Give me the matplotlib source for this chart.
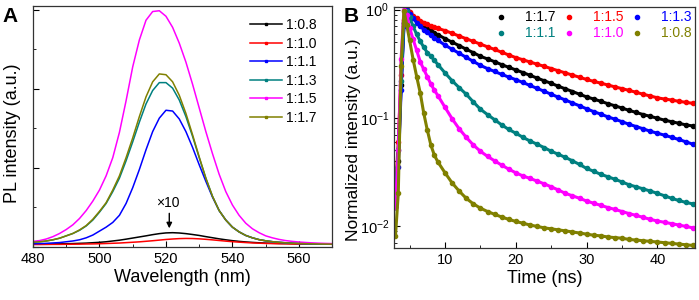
import numpy as np
import matplotlib
matplotlib.use('Agg')
import matplotlib.pyplot as plt
from matplotlib.lines import Line2D
from matplotlib.ticker import MultipleLocator, LogLocator, NullFormatter

plt.rcParams['font.family'] = ['Liberation Sans', 'DejaVu Sans']
plt.rcParams['mathtext.fontset'] = 'custom'
plt.rcParams['mathtext.rm'] = 'Liberation Sans'

# ---- panel A: PL spectra (wavelength every 2 nm, 480..570) ----
wl = list(range(480, 571, 2))

pl_08 = [0.035, 0.036, 0.037, 0.038, 0.039, 0.040, 0.042, 0.045, 0.048, 0.053, 0.058,
         0.065, 0.075, 0.085, 0.098, 0.112, 0.126, 0.140, 0.155, 0.168, 0.177, 0.180,
         0.176, 0.168, 0.157, 0.145, 0.130, 0.116, 0.102, 0.090, 0.079, 0.070, 0.063,
         0.057, 0.052, 0.048, 0.046, 0.044, 0.043, 0.041, 0.040, 0.039, 0.038, 0.037,
         0.036, 0.036]
pl_10 = [0.030, 0.030, 0.031, 0.032, 0.032, 0.033, 0.034, 0.035, 0.037, 0.038, 0.040,
         0.043, 0.046, 0.049, 0.054, 0.059, 0.064, 0.071, 0.078, 0.086, 0.094, 0.100,
         0.105, 0.107, 0.106, 0.102, 0.096, 0.089, 0.081, 0.073, 0.066, 0.060, 0.055,
         0.050, 0.047, 0.044, 0.042, 0.040, 0.039, 0.037, 0.036, 0.035, 0.035, 0.034,
         0.034, 0.033]
pl_11 = [0.040, 0.042, 0.045, 0.050, 0.055, 0.065, 0.075, 0.090, 0.115, 0.150, 0.200,
         0.250, 0.310, 0.400, 0.550, 0.750, 0.980, 1.230, 1.460, 1.630, 1.730, 1.720,
         1.620, 1.460, 1.260, 1.040, 0.830, 0.630, 0.460, 0.340, 0.250, 0.190, 0.145,
         0.115, 0.092, 0.077, 0.066, 0.058, 0.052, 0.047, 0.044, 0.041, 0.039, 0.037,
         0.036, 0.035]
pl_13 = [0.060, 0.065, 0.075, 0.090, 0.110, 0.140, 0.170, 0.210, 0.265, 0.340, 0.440,
         0.550, 0.700, 0.870, 1.090, 1.330, 1.580, 1.810, 1.980, 2.080, 2.080, 2.010,
         1.860, 1.650, 1.400, 1.130, 0.870, 0.640, 0.460, 0.340, 0.250, 0.190, 0.145,
         0.115, 0.092, 0.077, 0.066, 0.058, 0.052, 0.047, 0.044, 0.041, 0.039, 0.037,
         0.036, 0.035]
pl_15 = [0.070, 0.080, 0.100, 0.130, 0.170, 0.220, 0.280, 0.360, 0.460, 0.580, 0.720,
         0.900, 1.130, 1.450, 1.850, 2.280, 2.620, 2.870, 2.980, 2.990, 2.920, 2.780,
         2.580, 2.340, 2.060, 1.760, 1.460, 1.180, 0.920, 0.700, 0.530, 0.400, 0.300,
         0.230, 0.180, 0.140, 0.115, 0.095, 0.080, 0.070, 0.062, 0.056, 0.051, 0.047,
         0.044, 0.042]
pl_17 = [0.060, 0.065, 0.075, 0.090, 0.110, 0.140, 0.170, 0.215, 0.270, 0.350, 0.450,
         0.560, 0.720, 0.900, 1.130, 1.380, 1.650, 1.900, 2.090, 2.190, 2.180, 2.090,
         1.920, 1.690, 1.420, 1.140, 0.870, 0.640, 0.460, 0.340, 0.250, 0.190, 0.145,
         0.115, 0.092, 0.077, 0.066, 0.058, 0.052, 0.047, 0.044, 0.041, 0.039, 0.037,
         0.036, 0.035]

labels_a = ['1:0.8', '1:1.0', '1:1.1', '1:1.3', '1:1.5', '1:1.7']
series_a = [pl_08, pl_10, pl_11, pl_13, pl_15, pl_17]
colors_a = ['#000000', '#ff0000', '#0000ff', '#008080', '#ff00ff', '#808000']

# ---- panel B: decay curves ----
t = [3.0, 3.4, 3.8, 4.2, 4.6, 5.0, 5.5, 6.0, 6.5, 7.0, 7.5, 8.0, 8.5, 9, 10, 11, 12,
     13, 14, 15, 16, 17, 18, 19, 20, 21, 22, 23, 24, 25, 26, 27, 28, 29, 30, 31, 32,
     33, 34, 35, 36, 37, 38, 39, 40, 41, 42, 43, 44, 45]

tr_17 = [0.015, 0.04, 0.2, 0.75, 1.0, 0.93, 0.85, 0.79, 0.74, 0.70, 0.67, 0.64, 0.61,
         0.585, 0.54, 0.50, 0.465, 0.43, 0.40, 0.37, 0.35, 0.33, 0.31, 0.293, 0.277,
         0.262, 0.247, 0.233, 0.220, 0.208, 0.196, 0.185, 0.175, 0.165, 0.156, 0.149,
         0.142, 0.135, 0.129, 0.123, 0.117, 0.112, 0.107, 0.103, 0.099, 0.095, 0.092,
         0.089, 0.086, 0.084]
tr_15 = [0.02, 0.06, 0.25, 0.8, 1.0, 0.95, 0.88, 0.83, 0.79, 0.76, 0.73, 0.71, 0.69,
         0.67, 0.64, 0.604, 0.570, 0.538, 0.508, 0.480, 0.453, 0.428, 0.404, 0.381, 0.360,
         0.344, 0.328, 0.313, 0.299, 0.285, 0.272, 0.260, 0.248, 0.237, 0.226, 0.217,
         0.209, 0.201, 0.193, 0.186, 0.179, 0.172, 0.165, 0.159, 0.153, 0.149, 0.146,
         0.142, 0.139, 0.136]
tr_13 = [0.015, 0.035, 0.18, 0.7, 1.0, 0.92, 0.83, 0.76, 0.70, 0.655, 0.615, 0.58, 0.55,
         0.52, 0.47, 0.43, 0.395, 0.362, 0.332, 0.305, 0.285, 0.268, 0.252, 0.238, 0.225,
         0.212, 0.199, 0.187, 0.176, 0.165, 0.155, 0.146, 0.137, 0.129, 0.121, 0.114,
         0.108, 0.102, 0.097, 0.092, 0.087, 0.083, 0.079, 0.075, 0.072, 0.069, 0.066,
         0.063, 0.060, 0.057]
tr_11 = [0.02, 0.05, 0.22, 0.75, 0.97, 0.85, 0.70, 0.59, 0.51, 0.45, 0.40, 0.37, 0.34,
         0.31, 0.26, 0.22, 0.19, 0.165, 0.14, 0.12, 0.107, 0.096, 0.086, 0.078, 0.072,
         0.066, 0.061, 0.057, 0.053, 0.049, 0.046, 0.043, 0.040, 0.037, 0.034, 0.032,
         0.030, 0.0285, 0.027, 0.0255, 0.024, 0.023, 0.022, 0.021, 0.020, 0.019, 0.018,
         0.0172, 0.0165, 0.016]
tr_10 = [0.015, 0.05, 0.35, 1.0, 0.9, 0.68, 0.53, 0.42, 0.33, 0.28, 0.24, 0.205, 0.18,
         0.16, 0.125, 0.098, 0.079, 0.066, 0.056, 0.049, 0.044, 0.040, 0.0365, 0.0335,
         0.031, 0.029, 0.0275, 0.026, 0.0245, 0.023, 0.0215, 0.020, 0.019, 0.018, 0.017,
         0.0162, 0.0155, 0.0148, 0.0142, 0.0136, 0.013, 0.0125, 0.012, 0.0115, 0.0111,
         0.0108, 0.0105, 0.0102, 0.0099, 0.0096]
tr_08 = [0.008, 0.02, 0.3, 0.98, 0.72, 0.52, 0.345, 0.24, 0.17, 0.11, 0.077, 0.056, 0.045,
         0.039, 0.031, 0.025, 0.021, 0.018, 0.016, 0.0146, 0.0136, 0.0128, 0.0121, 0.0115,
         0.011, 0.0106, 0.0102, 0.0099, 0.0096, 0.0094, 0.0092, 0.009, 0.0088, 0.0086,
         0.0084, 0.0082, 0.0081, 0.0079, 0.0078, 0.0077, 0.0075, 0.0074, 0.0073, 0.0072,
         0.0071, 0.007, 0.0069, 0.0068, 0.0067, 0.0066]

labels_b = ['1:1.7', '1:1.5', '1:1.3', '1:1.1', '1:1.0', '1:0.8']
series_b = [tr_17, tr_15, tr_13, tr_11, tr_10, tr_08]
colors_b = ['#000000', '#ff0000', '#0000ff', '#008080', '#ff00ff', '#808000']

fig = plt.figure(figsize=(6.99, 3.0), dpi=100)
ax1 = fig.add_axes([0.0472, 0.177, 0.428, 0.803])
ax2 = fig.add_axes([0.5637, 0.172, 0.4306, 0.805])

# panel A
for y, c in zip(series_a, colors_a):
    ax1.plot(wl, y, color=c, lw=1.1)
ax1.set_xlim(480, 570)
ax1.set_ylim(0, 3.05)
ax1.xaxis.set_major_locator(MultipleLocator(20))
ax1.xaxis.set_minor_locator(MultipleLocator(10))
ax1.yaxis.set_major_locator(MultipleLocator(1))
ax1.yaxis.set_minor_locator(MultipleLocator(0.5))
ax1.set_yticklabels([])
ax1.tick_params(which='both', direction='in', labelsize=10.5, top=False, right=False)
ax1.tick_params(which='major', length=4)
ax1.tick_params(which='minor', length=2)
ax1.set_xlabel('Wavelength (nm)', fontsize=13, labelpad=2)
ax1.set_ylabel('PL intensity (a.u.)', fontsize=13)
ax1.yaxis.set_label_coords(-0.04, 0.47)
ax1.text(520.5, 0.55, '\u00d710', ha='center', va='center', fontsize=10)
ax1.annotate('', xy=(521, 0.2), xytext=(521, 0.46),
             arrowprops=dict(arrowstyle='-|>', color='k', lw=1, mutation_scale=8))
handles_a = [Line2D([], [], color=c, lw=1.1, marker='s', ms=1.5) for c in colors_a]
ax1.legend(handles_a, labels_a, loc='upper right', frameon=False, fontsize=10,
           handlelength=2.3, handletextpad=0.3, labelspacing=0.33,
           bbox_to_anchor=(0.975, 0.985), borderaxespad=0.2)

# panel B
for y, c in zip(series_b, colors_b):
    ax2.plot(t, y, color=c, lw=2.2, marker='o', ms=3, mec=c)
ax2.set_yscale('log')
ax2.set_xlim(2.8, 45.3)
ax2.set_ylim(0.0062, 1.06)
ax2.xaxis.set_major_locator(MultipleLocator(10))
ax2.xaxis.set_minor_locator(MultipleLocator(5))
ax2.yaxis.set_minor_locator(LogLocator(subs=np.arange(2, 10)))
ax2.yaxis.set_minor_formatter(NullFormatter())
ax2.tick_params(which='both', direction='in', labelsize=10.5, top=False, right=False)
ax2.tick_params(which='major', length=4)
ax2.tick_params(which='minor', length=2)
ax2.set_xlabel('Time (ns)', fontsize=13, labelpad=2)
ax2.set_ylabel('Normalized intensity (a.u.)', fontsize=12.5)
ax2.yaxis.set_label_coords(-0.11, 0.45)

order = [0, 3, 1, 4, 2, 5]
handles_b = [Line2D([], [], ls='none', marker='o', ms=3, color=colors_b[i]) for i in order]
ax2.legend(handles_b, [labels_b[i] for i in order], ncol=3, loc='upper right',
           frameon=False, fontsize=10, handlelength=0.8, handletextpad=1.3,
           columnspacing=0.6, labelspacing=0.15, borderaxespad=0.15, borderpad=0.1,
           bbox_to_anchor=(1.0, 1.0), labelcolor=[colors_b[i] for i in order])

for ax in (ax1, ax2):
    for s in ax.spines.values():
        s.set_linewidth(0.9)
        s.set_color('#333333')

fig.text(0.004, 0.975, 'A', fontsize=15, fontweight='bold', va='top')
fig.text(0.492, 0.975, 'B', fontsize=15, fontweight='bold', va='top')

fig.savefig('out.png', dpi=100)
